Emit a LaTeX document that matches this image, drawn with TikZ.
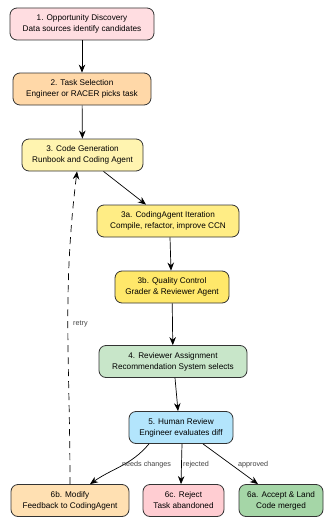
\documentclass[tikz,border=0pt]{standalone}
\usepackage{fontspec}
\setmainfont{Liberation Sans}
\usetikzlibrary{arrows.meta,positioning}
\definecolor{cPink}{HTML}{FFDDE1}
\definecolor{cOrange}{HTML}{FFD8A8}
\definecolor{cLYellow}{HTML}{FFF4B0}
\definecolor{cYellow}{HTML}{FFED85}
\definecolor{cDYellow}{HTML}{FFE86A}
\definecolor{cGreen}{HTML}{C8E6C9}
\definecolor{cBlue}{HTML}{B3E5FC}
\definecolor{cPeach}{HTML}{FFE0B2}
\definecolor{cRose}{HTML}{FFCDD2}
\definecolor{cDGreen}{HTML}{A5D6A7}
\definecolor{cBorder}{HTML}{333333}
\tikzset{
  box/.style={draw=cBorder, line width=0.8pt, rounded corners=7pt, align=center,
    font=\fontsize{8.2}{11}\selectfont, minimum height=32pt, inner sep=2pt},
  arr/.style={-{Stealth[length=8pt,width=6.5pt]}, line width=0.7pt, black},
  lbl/.style={font=\fontsize{7.2}{8}\selectfont, text=black!75, inner sep=1pt}
}
\begin{document}
\begin{tikzpicture}[x=1pt,y=-1pt]
\useasboundingbox (0,0) rectangle (325,519);
\node[box, fill=cPink, minimum width=144pt] (n1) at (82,24) {1. Opportunity Discovery\\Data sources identify candidates};
\node[box, fill=cOrange, minimum width=138pt] (n2) at (82,89) {2. Task Selection\\Engineer or RACER picks task};
\node[box, fill=cLYellow, minimum width=121pt] (n3) at (82.5,155) {3. Code Generation\\Runbook and Coding Agent};
\node[box, fill=cYellow, minimum width=142pt] (n3a) at (168,221) {3a. CodingAgent Iteration\\Compile, refactor, improve CCN};
\node[box, fill=cDYellow, minimum width=114pt] (n3b) at (172,287) {3b. Quality Control\\Grader \& Reviewer Agent};
\node[box, fill=cGreen, minimum width=148pt] (n4) at (173,361.5) {4. Reviewer Assignment\\Recommendation System selects};
\node[box, fill=cBlue, minimum width=104pt] (n5) at (181,427.5) {5. Human Review\\Engineer evaluates diff};
\node[box, fill=cPeach, minimum width=118pt] (n6b) at (70,500.5) {6b. Modify\\Feedback to CodingAgent};
\node[box, fill=cRose, minimum width=81pt] (n6c) at (183.5,500.5) {6c. Reject\\Task abandoned};
\node[box, fill=cDGreen, minimum width=84pt] (n6a) at (281,500.5) {6a. Accept \& Land\\Code merged};

\draw[arr] (n1) -- (n2);
\draw[arr] (n2) -- (n3);
\draw[arr] ([xshift=21pt]n3.south) -- ([xshift=-22pt]n3a.north);
\draw[arr] ([xshift=2pt]n3a.south) -- ([xshift=-1pt]n3b.north);
\draw[arr] (n3b) -- (n4);
\draw[arr] ([xshift=2pt]n4.south) -- ([xshift=-3pt]n5.north);
\draw[arr] ([xshift=-32pt]n5.south) to[out=-130,in=35] ([xshift=20pt]n6b.north);
\draw[arr] ([xshift=1pt]n5.south) -- ([xshift=-2.5pt]n6c.north);
\draw[arr] ([xshift=22pt]n5.south) -- ([xshift=-23pt]n6a.north);
\draw[arr, dashed, dash pattern=on 7pt off 5pt] (n6b.north) to[out=90,in=-97] ([xshift=-5.5pt]n3.south);
\node[lbl, anchor=west] (lretry) at (72,324) {retry};
\node[lbl, anchor=west] (lneeds) at (121,465) {needs changes};
\node[lbl, anchor=west] (lrej) at (182,465) {rejected};
\node[lbl, anchor=west] (lapp) at (237,465) {approved};
\end{tikzpicture}
\end{document}
